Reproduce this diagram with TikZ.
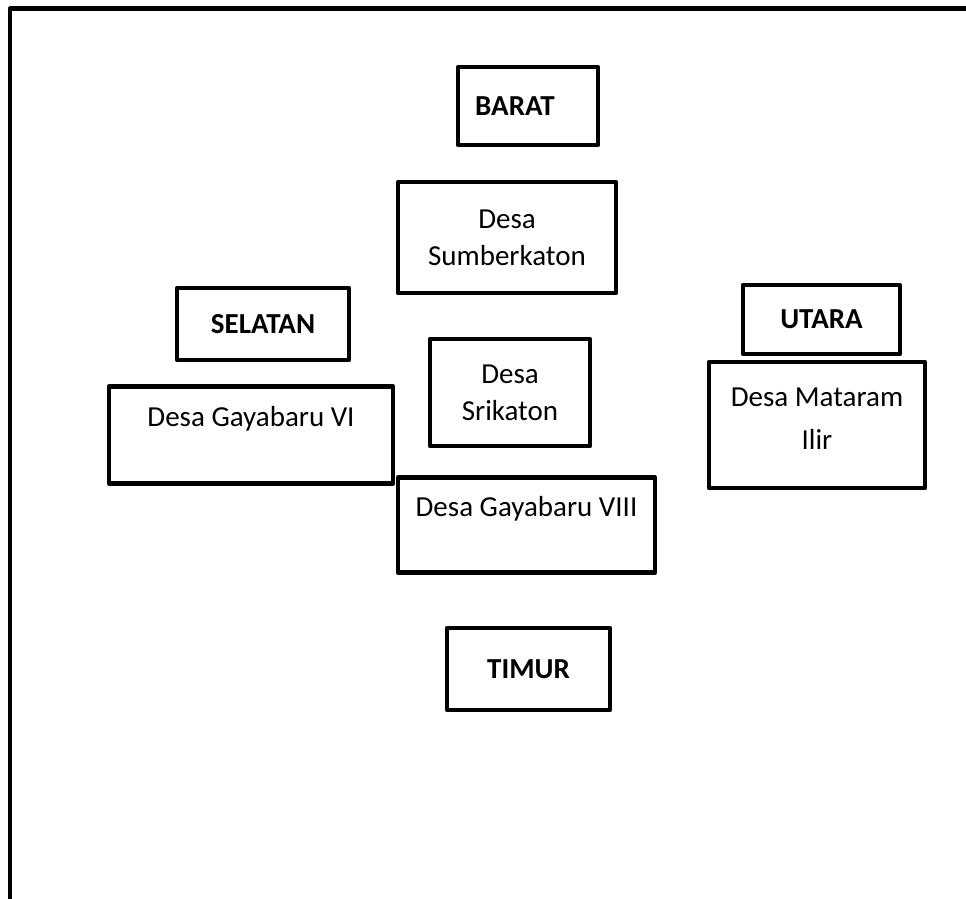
\documentclass[tikz,border=0pt]{standalone}
\usepackage{fontspec}
\setmainfont{Carlito}
\usetikzlibrary{positioning}

\begin{document}
\begin{tikzpicture}[
    x=1pt, y=-1pt,
    % box styles
    box/.style={rectangle, draw=black, line width=4.5pt, line join=round,
        align=center, inner sep=0pt, font=\fontsize{29}{37}\selectfont},
    dir/.style={box, font=\fontsize{29}{37}\selectfont\bfseries}
]
    \useasboundingbox (0,0) rectangle (966,899);

    % outer frame (open at right and bottom)
    \draw[line width=4.5pt, line join=round] (10,899) -- (10,8.5) -- (966,8.5);

    % compass labels
    \node[dir, minimum width=140, minimum height=78] (barat) at (528,106) {BARAT\hspace*{26pt}};
    \node[dir, minimum width=172, minimum height=72] (selatan) at (263,324) {SELATAN};
    \node[dir, minimum width=157, minimum height=69] (utara) at (821.5,319.5) {UTARA};
    \node[dir, minimum width=163, minimum height=82] (timur) at (528.5,669) {TIMUR};

    % villages
    \node[box, minimum width=218, minimum height=111] (sumberkaton) at (507,237.5) {Desa\\Sumberkaton};
    \node[box, minimum width=284, minimum height=97] (gayabaru6) at (251,435) {Desa Gayabaru VI\\\mbox{}};
    \node[box, minimum width=160, minimum height=107] (srikaton) at (510,392.5) {Desa\\Srikaton};
    \node[box, minimum width=216, minimum height=126] (mataram) at (817,425) {Desa Mataram\\[6pt]Ilir\\[-25pt]\mbox{}};
    \node[box, minimum width=257, minimum height=95] (gayabaru8) at (526.5,525) {Desa Gayabaru VIII\\\mbox{}};
\end{tikzpicture}
\end{document}
